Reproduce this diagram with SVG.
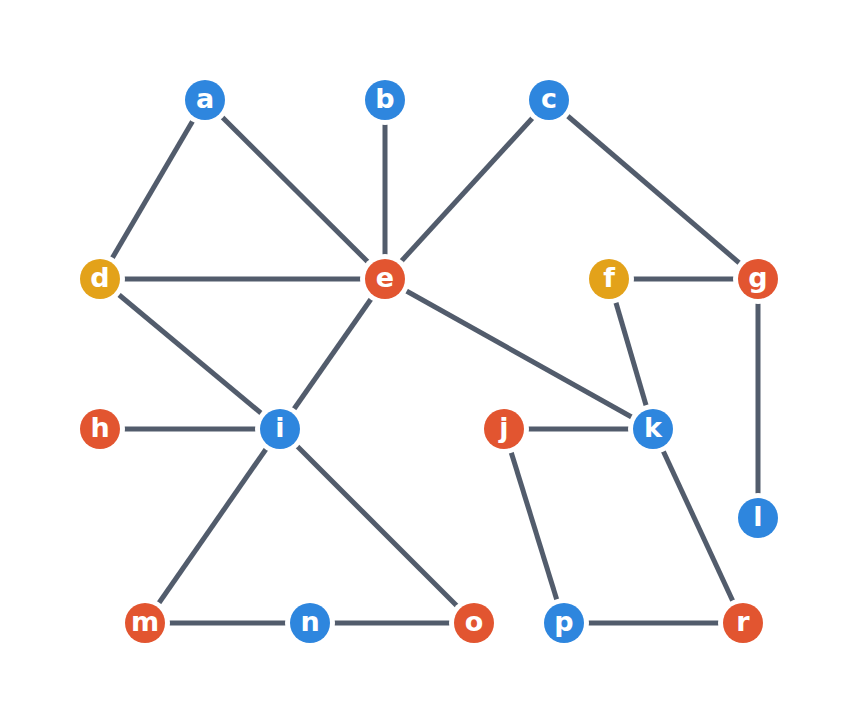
<svg xmlns="http://www.w3.org/2000/svg" width="858" height="724" viewBox="0 0 858 724">
<style>
.edge{stroke:#525c6c;stroke-width:5;fill:none;stroke-linecap:butt}
.halo{fill:#ffffff}
.blue{fill:#2e86de}
.red{fill:#e25530}
.yel{fill:#e3a21a}
text{font-family:"DejaVu Sans",sans-serif;font-weight:bold;font-size:27px;fill:#ffffff;text-anchor:middle;dominant-baseline:central}
</style>
<rect width="858" height="724" fill="#ffffff"/>
<g id="edges">
<line class="edge" x1="205" y1="100" x2="100" y2="279"/>
<line class="edge" x1="205" y1="100" x2="385" y2="279"/>
<line class="edge" x1="385" y1="100" x2="385" y2="279"/>
<line class="edge" x1="549" y1="100" x2="385" y2="279"/>
<line class="edge" x1="549" y1="100" x2="758" y2="279"/>
<line class="edge" x1="100" y1="279" x2="385" y2="279"/>
<line class="edge" x1="100" y1="279" x2="280" y2="429"/>
<line class="edge" x1="385" y1="279" x2="280" y2="429"/>
<line class="edge" x1="385" y1="279" x2="653" y2="429"/>
<line class="edge" x1="609" y1="279" x2="758" y2="279"/>
<line class="edge" x1="609" y1="279" x2="653" y2="429"/>
<line class="edge" x1="758" y1="279" x2="758" y2="518"/>
<line class="edge" x1="100" y1="429" x2="280" y2="429"/>
<line class="edge" x1="504" y1="429" x2="653" y2="429"/>
<line class="edge" x1="504" y1="429" x2="564" y2="623"/>
<line class="edge" x1="653" y1="429" x2="743" y2="623"/>
<line class="edge" x1="280" y1="429" x2="145" y2="623"/>
<line class="edge" x1="280" y1="429" x2="474" y2="623"/>
<line class="edge" x1="145" y1="623" x2="310" y2="623"/>
<line class="edge" x1="310" y1="623" x2="474" y2="623"/>
<line class="edge" x1="564" y1="623" x2="743" y2="623"/>
</g>
<g id="a"><circle class="halo" cx="205" cy="100" r="25"/><circle class="blue" cx="205" cy="100" r="20"/><text x="205" y="98">a</text></g>
<g id="b"><circle class="halo" cx="385" cy="100" r="25"/><circle class="blue" cx="385" cy="100" r="20"/><text x="385" y="98">b</text></g>
<g id="c"><circle class="halo" cx="549" cy="100" r="25"/><circle class="blue" cx="549" cy="100" r="20"/><text x="549" y="98">c</text></g>
<g id="d"><circle class="halo" cx="100" cy="279" r="25"/><circle class="yel" cx="100" cy="279" r="20"/><text x="100" y="277">d</text></g>
<g id="e"><circle class="halo" cx="385" cy="279" r="25"/><circle class="red" cx="385" cy="279" r="20"/><text x="385" y="277">e</text></g>
<g id="f"><circle class="halo" cx="609" cy="279" r="25"/><circle class="yel" cx="609" cy="279" r="20"/><text x="609" y="277">f</text></g>
<g id="g"><circle class="halo" cx="758" cy="279" r="25"/><circle class="red" cx="758" cy="279" r="20"/><text x="758" y="277">g</text></g>
<g id="h"><circle class="halo" cx="100" cy="429" r="25"/><circle class="red" cx="100" cy="429" r="20"/><text x="100" y="427">h</text></g>
<g id="i"><circle class="halo" cx="280" cy="429" r="25"/><circle class="blue" cx="280" cy="429" r="20"/><text x="280" y="427">i</text></g>
<g id="j"><circle class="halo" cx="504" cy="429" r="25"/><circle class="red" cx="504" cy="429" r="20"/><text x="504" y="427">j</text></g>
<g id="k"><circle class="halo" cx="653" cy="429" r="25"/><circle class="blue" cx="653" cy="429" r="20"/><text x="653" y="427">k</text></g>
<g id="l"><circle class="halo" cx="758" cy="518" r="25"/><circle class="blue" cx="758" cy="518" r="20"/><text x="758" y="516">l</text></g>
<g id="m"><circle class="halo" cx="145" cy="623" r="25"/><circle class="red" cx="145" cy="623" r="20"/><text x="145" y="621">m</text></g>
<g id="n"><circle class="halo" cx="310" cy="623" r="25"/><circle class="blue" cx="310" cy="623" r="20"/><text x="310" y="621">n</text></g>
<g id="o"><circle class="halo" cx="474" cy="623" r="25"/><circle class="red" cx="474" cy="623" r="20"/><text x="474" y="621">o</text></g>
<g id="p"><circle class="halo" cx="564" cy="623" r="25"/><circle class="blue" cx="564" cy="623" r="20"/><text x="564" y="621">p</text></g>
<g id="r"><circle class="halo" cx="743" cy="623" r="25"/><circle class="red" cx="743" cy="623" r="20"/><text x="743" y="621">r</text></g>
</svg>
